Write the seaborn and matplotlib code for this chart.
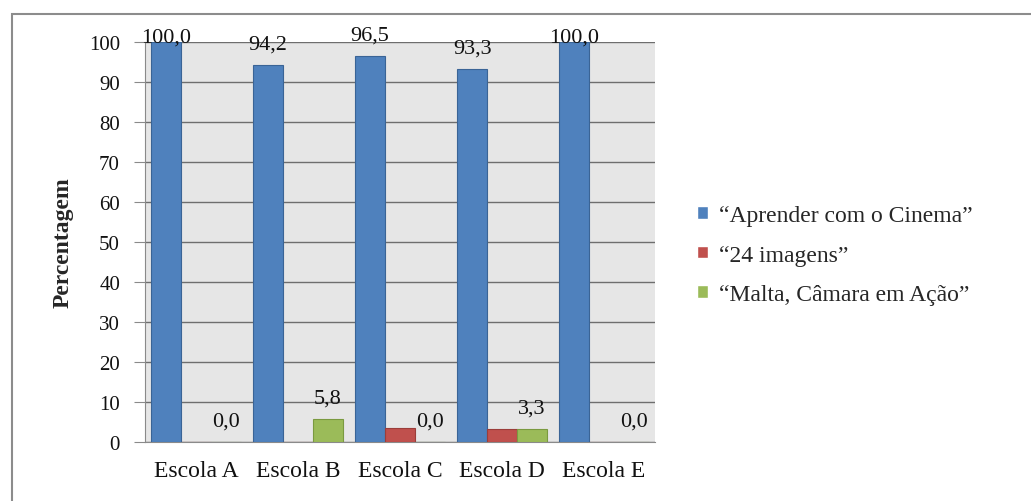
import pandas as pd
import matplotlib
matplotlib.use('Agg')
import matplotlib.pyplot as plt
import seaborn as sns
from matplotlib.patches import Rectangle

# Data
escolas = ['Escola A', 'Escola B', 'Escola C', 'Escola D', 'Escola E']
projetos = ['“Aprender com o Cinema”', '“24 imagens”', '“Malta, Câmara em Ação”']
aprender = [100.0, 94.2, 96.5, 93.3, 100.0]
imagens24 = [0.0, 0.0, 3.5, 3.3, 0.0]
malta = [0.0, 5.8, 0.0, 3.3, 0.0]

cores = ['#4F81BD', '#C0504D', '#9BBB59']
bordas = ['#3A6496', '#9B3D3A', '#7A9A40']

df = pd.DataFrame({
    'Escola': escolas * 3,
    'Projeto': [projetos[0]] * 5 + [projetos[1]] * 5 + [projetos[2]] * 5,
    'Percentagem': aprender + imagens24 + malta,
})

sns.set_style('white')
plt.rcParams['font.family'] = ['Liberation Serif', 'DejaVu Serif']

fig = plt.figure(figsize=(10.31, 5.02), dpi=100)
ax = fig.add_axes([145 / 1031, 59 / 502, 510 / 1031, 400 / 502])

sns.barplot(data=df, x='Escola', y='Percentagem', hue='Projeto',
            palette=cores, saturation=1, width=0.88, ax=ax, zorder=3)

# bar edges
for cont, ec in zip(ax.containers, bordas):
    for bar in cont:
        bar.set_edgecolor(ec)
        bar.set_linewidth(0.8)

# data labels (only blue and green series)
for idx in [0, 2]:
    for bar in ax.containers[idx]:
        v = bar.get_height()
        off = 0 if v >= 99 else 12
        ax.annotate(f'{v:.1f}'.replace('.', ','),
                    (bar.get_x() + bar.get_width() / 2, v),
                    xytext=(0, off), textcoords='offset points',
                    ha='center', va='baseline', fontsize=16, color='#111111',
                    zorder=5)

ax.set_facecolor('#E6E6E6')
ax.set_xlim(-0.5, 4.5)
ax.set_ylim(0, 100)
ax.set_yticks(range(0, 101, 10))
ax.yaxis.grid(True, color='#6E6E6E', linewidth=1, zorder=0)
ax.set_axisbelow(True)
for s in ['top', 'right']:
    ax.spines[s].set_visible(False)
ax.spines['left'].set_color('#8A8A8A')
ax.spines['bottom'].set_color('#8A8A8A')
ax.tick_params(axis='y', direction='out', length=8, color='#8A8A8A',
               left=True, labelsize=15, pad=10, labelcolor='#111111')
ax.tick_params(axis='x', length=0, labelsize=17, pad=13, labelcolor='#111111')

ax.set_xlabel('')
ax.set_ylabel('Percentagem', fontsize=17, fontweight='bold', labelpad=11)

handles, labels = ax.get_legend_handles_labels()
ax.legend(handles, labels, loc='center left', bbox_to_anchor=(697 / 1031, 0.49),
          bbox_transform=fig.transFigure, frameon=False, fontsize=17,
          handlelength=0.45, handleheight=0.45, handletextpad=0.5,
          labelspacing=0.78, borderpad=0, borderaxespad=0)

# outer chart border
fig.add_artist(Rectangle((12 / 1031, -0.1), 1.1, 1.1 - 15 / 502,
                         transform=fig.transFigure, fill=False,
                         edgecolor='#8C8C8C', linewidth=1.5))

plt.savefig('out.png', dpi=100)
